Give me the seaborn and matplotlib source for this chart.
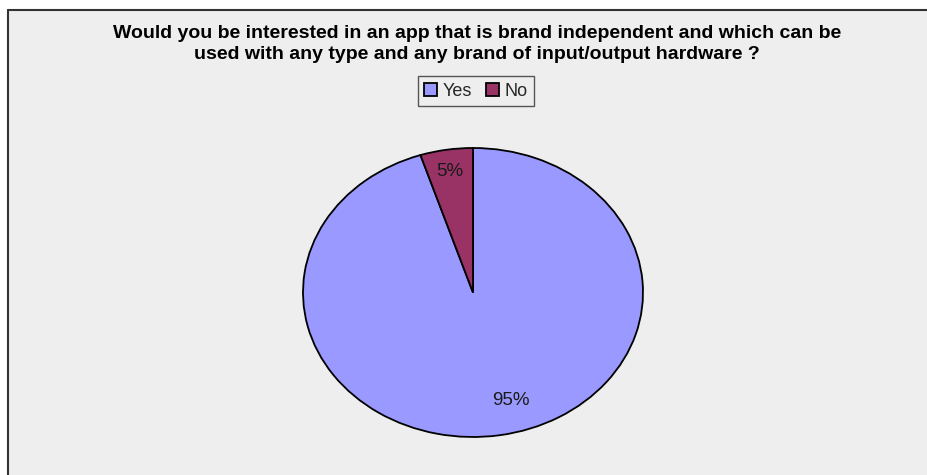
import matplotlib
matplotlib.use("Agg")
import matplotlib.pyplot as plt
import seaborn as sns
from matplotlib.lines import Line2D
from matplotlib.patches import Rectangle

categories = ["Yes", "No"]
values = [95, 5]
colors = ["#9999FF", "#993366"]
title = ("Would you be interested in an app that is brand independent and which can be\n"
         "used with any type and any brand of input/output hardware ?")

sns.set_theme(style="white")
plt.rcParams['font.family'] = ['Liberation Sans', 'DejaVu Sans']

W, H = 927, 475
fig = plt.figure(figsize=(W / 100, H / 100), dpi=100, facecolor="white")

# panel background
x0 = 8 / W
y1 = 1 - 10 / H
fig.patches.append(Rectangle((x0, 0), 1 - x0, y1, transform=fig.transFigure,
                             facecolor="#EEEEEE", edgecolor="none", zorder=-10))
fig.lines.append(Line2D([x0, x0], [0, y1], transform=fig.transFigure, color="#333333",
                        lw=1.5, zorder=-5))
fig.lines.append(Line2D([x0, 1], [y1, y1], transform=fig.transFigure, color="#333333",
                        lw=1.5, zorder=-5))

# pie axes (elliptical)
ax = fig.add_axes([303 / W, 38 / H, 340 / W, 289 / H])
ax.set_zorder(2)
ax.set_facecolor("none")
wedges, texts, autotexts = ax.pie(
    values, colors=colors, startangle=90, counterclock=False,
    autopct=lambda p: f"{p:.0f}%", pctdistance=0.78,
    wedgeprops=dict(edgecolor="black", linewidth=1.3),
    textprops=dict(fontsize=13.5, color="#1a1a1a"))
ax.set_aspect("auto")
ax.set_xlim(-1.0, 1.0)
ax.set_ylim(-1.0, 1.0)
ax.axis("off")
autotexts[0].set_position((0.224, -0.75))
autotexts[1].set_position((-0.135, 0.84))

fig.text(477 / W, 1 - 44 / H, title, ha="center", va="center", fontsize=14,
         fontweight="bold", linespacing=1.3, color="black")

leg = fig.legend(wedges, categories, loc="center", ncol=2,
                 bbox_to_anchor=(476 / W, 1 - 91 / H), frameon=True, fancybox=False,
                 edgecolor="#555555", facecolor="#EEEEEE", framealpha=1,
                 fontsize=13, handlelength=0.7, handleheight=0.7, handletextpad=0.3,
                 columnspacing=0.8, borderpad=0.35)
leg.get_frame().set_linewidth(1.0)

fig.savefig("out.png", dpi=100, facecolor="white")
